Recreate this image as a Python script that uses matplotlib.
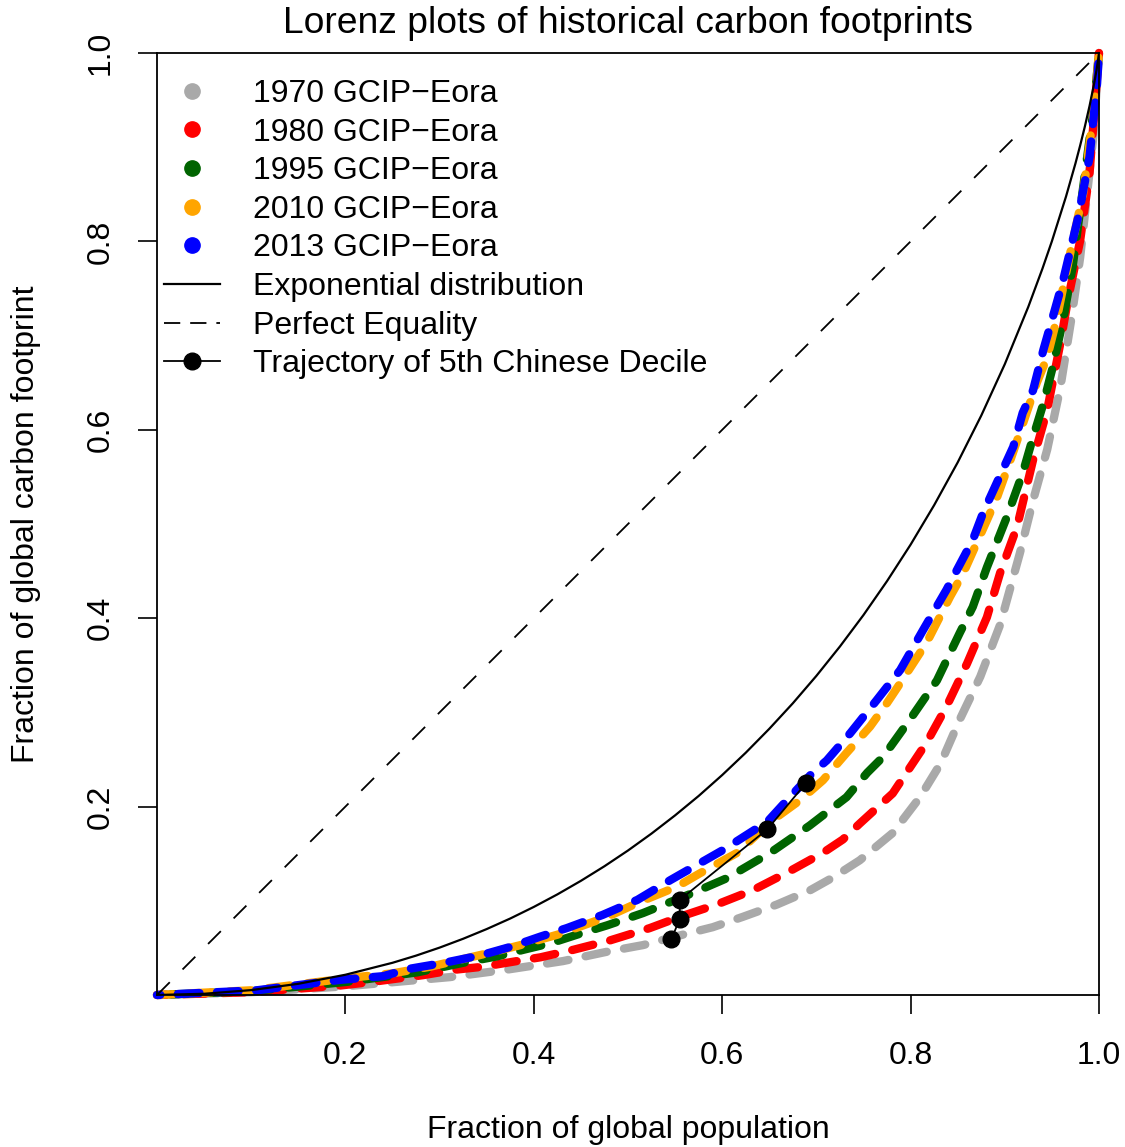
import matplotlib
matplotlib.use("Agg")
import matplotlib.pyplot as plt
from matplotlib.lines import Line2D

plt.rcParams['font.family'] = ['Liberation Sans', 'DejaVu Sans']

# Lorenz curves (fraction of population, fraction of footprint)
x_1970 = [0, 0.10, 0.197, 0.255, 0.311, 0.372, 0.431, 0.478, 0.516, 0.558, 0.590, 0.622, 0.658, 0.693,
          0.718, 0.746, 0.781, 0.810, 0.832, 0.852, 0.874, 0.895, 0.916, 0.930, 0.945, 0.959, 0.971,
          0.980, 0.994, 1.0]
y_1970 = [0, 0.003, 0.009, 0.014, 0.019, 0.027, 0.036, 0.046, 0.053, 0.064, 0.072, 0.083, 0.096, 0.111,
          0.125, 0.143, 0.172, 0.210, 0.246, 0.292, 0.338, 0.393, 0.469, 0.525, 0.579, 0.645, 0.720,
          0.783, 0.911, 1.0]

x_1980 = [0, 0.10, 0.194, 0.229, 0.282, 0.318, 0.346, 0.382, 0.407, 0.442, 0.481, 0.523, 0.558, 0.594,
          0.632, 0.669, 0.707, 0.728, 0.746, 0.781, 0.817, 0.838, 0.860, 0.881, 0.895, 0.913, 0.930,
          0.945, 0.959, 0.967, 0.980, 0.990, 1.0]
y_1980 = [0, 0.003, 0.010, 0.014, 0.021, 0.027, 0.030, 0.036, 0.040, 0.048, 0.058, 0.071, 0.084, 0.096,
          0.111, 0.130, 0.151, 0.165, 0.182, 0.214, 0.268, 0.306, 0.352, 0.401, 0.448, 0.497, 0.568,
          0.621, 0.692, 0.738, 0.801, 0.873, 1.0]

x_1995 = [0, 0.10, 0.202, 0.276, 0.329, 0.361, 0.389, 0.418, 0.452, 0.478, 0.516, 0.568, 0.605, 0.651,
          0.693, 0.732, 0.754, 0.771, 0.799, 0.828, 0.852, 0.866, 0.881, 0.902, 0.919, 0.930, 0.941,
          0.951, 0.962, 0.972, 0.994, 1.0]
y_1995 = [0, 0.004, 0.014, 0.024, 0.035, 0.041, 0.048, 0.055, 0.066, 0.074, 0.087, 0.108, 0.124, 0.151,
          0.180, 0.210, 0.236, 0.253, 0.292, 0.334, 0.384, 0.412, 0.454, 0.507, 0.554, 0.592, 0.628,
          0.667, 0.717, 0.773, 0.939, 1.0]

x_2010 = [0, 0.10, 0.212, 0.250, 0.290, 0.354, 0.386, 0.425, 0.478, 0.513, 0.552, 0.576, 0.616, 0.654,
          0.683, 0.707, 0.732, 0.757, 0.775, 0.789, 0.817, 0.842, 0.856, 0.881, 0.892, 0.906, 0.916,
          0.934, 0.945, 0.955, 0.972, 0.983, 0.994, 1.0]
y_2010 = [0, 0.005, 0.019, 0.023, 0.030, 0.045, 0.053, 0.064, 0.083, 0.099, 0.115, 0.129, 0.151, 0.186,
          0.207, 0.228, 0.257, 0.285, 0.310, 0.331, 0.374, 0.423, 0.448, 0.504, 0.529, 0.568, 0.597,
          0.650, 0.677, 0.717, 0.800, 0.850, 0.935, 1.0]

x_2013 = [0, 0.106, 0.194, 0.240, 0.269, 0.304, 0.343, 0.375, 0.407, 0.435, 0.473, 0.510, 0.545, 0.601,
          0.648, 0.669, 0.696, 0.711, 0.736, 0.764, 0.789, 0.813, 0.838, 0.866, 0.877, 0.909, 0.919,
          0.930, 0.941, 0.953, 0.962, 0.978, 0.990, 0.994, 0.998, 1.0]
y_2013 = [0, 0.005, 0.016, 0.020, 0.028, 0.034, 0.042, 0.051, 0.062, 0.071, 0.085, 0.101, 0.122, 0.154,
          0.184, 0.207, 0.236, 0.249, 0.278, 0.313, 0.345, 0.387, 0.430, 0.483, 0.512, 0.582, 0.618,
          0.642, 0.685, 0.727, 0.759, 0.826, 0.890, 0.929, 0.968, 1.0]

# exponential distribution Lorenz curve
x_exp = [0, 0.05, 0.1, 0.15, 0.2, 0.25, 0.275, 0.3, 0.325, 0.35, 0.375, 0.4, 0.425, 0.45, 0.475, 0.5,
         0.525, 0.55, 0.575, 0.6, 0.625, 0.65, 0.675, 0.7, 0.725, 0.75, 0.775, 0.8, 0.825, 0.85, 0.875,
         0.9, 0.925, 0.94, 0.95, 0.965, 0.975, 0.98, 0.985, 0.99, 0.995, 0.9975, 1.0]
y_exp = [0, 0.0013, 0.0052, 0.0119, 0.0215, 0.0342, 0.0418, 0.0503, 0.0597, 0.0700, 0.0812, 0.0935,
         0.1068, 0.1212, 0.1367, 0.1534, 0.1714, 0.1907, 0.2113, 0.2335, 0.2572, 0.2826, 0.3097,
         0.3388, 0.3700, 0.4034, 0.4394, 0.4781, 0.5200, 0.5654, 0.6151, 0.6697, 0.7307, 0.7712,
         0.8002, 0.8477, 0.8828, 0.9018, 0.9220, 0.9439, 0.9685, 0.9825, 1.0]

x_equal = [0, 1]
y_equal = [0, 1]

# 5th Chinese decile: 1970, 1980, 1995, 2010, 2013
x_traj = [0.546, 0.555, 0.555, 0.648, 0.689]
y_traj = [0.059, 0.081, 0.101, 0.176, 0.225]

labels = ['1970 GCIP\u2212Eora', '1980 GCIP\u2212Eora', '1995 GCIP\u2212Eora',
          '2010 GCIP\u2212Eora', '2013 GCIP\u2212Eora']
colors = ['#A9A9A9', '#FF0000', '#006400', '#FFA500', '#0000FF']
series = [(x_1970, y_1970), (x_1980, y_1980), (x_1995, y_1995), (x_2010, y_2010), (x_2013, y_2013)]
offsets = [0.0, 1.5, 3.0, 0.7, 2.2]

fig = plt.figure(figsize=(11.25, 11.47), dpi=100)
ax = fig.add_axes([157/1125, 152/1147, 942/1125, 942/1147])

for (xs, ys), c, off in zip(series, colors, offsets):
    ln, = ax.plot(xs, ys, color=c, lw=6.0, solid_capstyle='round', dash_capstyle='round',
                  linestyle=(off, (2.6, 2.1)))
    ln.set_clip_on(False)

ax.plot(x_exp, y_exp, color='black', lw=1.6)
ax.plot(x_equal, y_equal, color='black', lw=1.3, linestyle=(0, (10, 10)))
ax.plot(x_traj, y_traj, color='black', lw=1.3, marker='o', markersize=12)

ax.set_xlim(0, 1)
ax.set_ylim(0, 1)
ticks = [0.2, 0.4, 0.6, 0.8, 1.0]
ax.set_xticks(ticks)
ax.set_yticks(ticks)
ax.set_xticklabels(['0.2', '0.4', '0.6', '0.8', '1.0'])
ax.set_yticklabels(['0.2', '0.4', '0.6', '0.8', '1.0'], rotation=90, va='center')
ax.tick_params(axis='both', direction='out', length=14, width=1.2, labelsize=23, pad=19)
ax.tick_params(axis='y', pad=16)
for s in ax.spines.values():
    s.set_linewidth(1.3)

ax.set_xlabel('Fraction of global population', fontsize=23)
ax.set_ylabel('Fraction of global carbon footprint', fontsize=23)
ax.xaxis.set_label_coords(0.5, -0.1433)
ax.yaxis.set_label_coords(-0.139, 0.5)
ax.xaxis.label.set_va('center')
ax.yaxis.label.set_va('center')
ax.text(0.5, 1.031, 'Lorenz plots of historical carbon footprints', transform=ax.transAxes,
        ha='center', va='center', fontsize=26.8)

handles = [Line2D([], [], ls='none', marker='o', markersize=11, color=c) for c in colors]
handles += [Line2D([], [], color='black', lw=1.6),
            Line2D([], [], color='black', lw=1.3, linestyle=(0, (9, 5.5))),
            Line2D([], [], color='black', lw=1.3, marker='o', markersize=12)]
leg_labels = labels + ['Exponential distribution', 'Perfect Equality', 'Trajectory of 5th Chinese Decile']
ax.legend(handles, leg_labels, loc='upper left', bbox_to_anchor=(0.0074, 0.9724), frameon=False,
          fontsize=23, handlelength=1.75, handletextpad=1.03, labelspacing=0.27, borderpad=0,
          borderaxespad=0)

fig.savefig('out.png', dpi=100)
